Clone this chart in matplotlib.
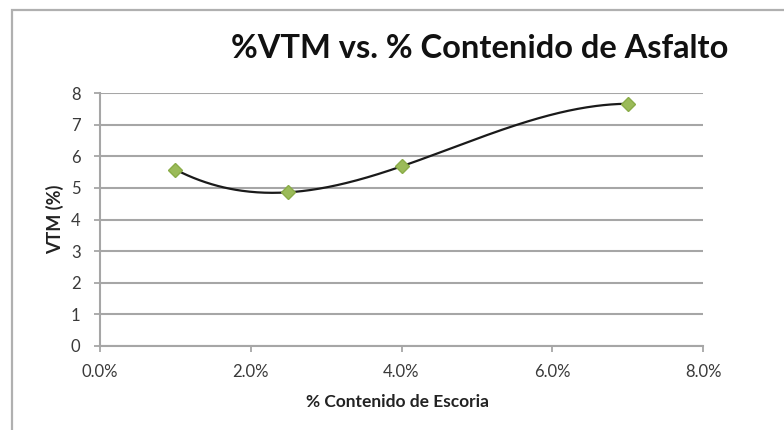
import numpy as np
import matplotlib
matplotlib.use("Agg")
import matplotlib.pyplot as plt
from matplotlib.ticker import FuncFormatter, MultipleLocator
from matplotlib.patches import Rectangle

# Slag content (%) and total air voids VTM (%)
contenido = [1.0, 2.5, 4.0, 7.0]
vtm = [5.58, 4.86, 5.68, 7.66]

titulo = "%VTM vs. % Contenido de Asfalto"
etiqueta_x = "% Contenido de Escoria"
etiqueta_y = "VTM (%)"

plt.rcParams['font.family'] = ['Lato', 'DejaVu Sans']

W, H = 784, 430
fig = plt.figure(figsize=(W / 100, H / 100), dpi=100)

# chart frame (top and left edges visible)
fig.add_artist(Rectangle((12 / W, -0.1), 1.2, (H - 10) / H + 0.1,
                         transform=fig.transFigure, fill=False,
                         edgecolor='#b0b0b0', linewidth=1.6))

ax = fig.add_axes([100 / W, (H - 346) / H, 603 / W, 253 / H])

# third-order polynomial trend line through the points
coef = np.polyfit(contenido, vtm, 3)
xs = np.linspace(min(contenido), max(contenido), 300)
ax.plot(xs, np.polyval(coef, xs), color='#1a1a1a', linewidth=1.6, zorder=3)
ax.plot(contenido, vtm, linestyle='none', marker='D', markersize=7.5,
        color='#9bbb59', markeredgecolor='#8aac48', zorder=4)

ax.set_xlim(0, 8)
ax.set_ylim(0, 8)
ax.xaxis.set_major_locator(MultipleLocator(2))
ax.yaxis.set_major_locator(MultipleLocator(1))
ax.xaxis.set_major_formatter(FuncFormatter(lambda v, p: f"{v:.1f}%"))

ax.grid(axis='y', color='#a6a6a6', linewidth=1.5)
ax.set_axisbelow(True)
for s in ['top', 'right']:
    ax.spines[s].set_visible(False)
for s in ['left', 'bottom']:
    ax.spines[s].set_color('#a6a6a6')
    ax.spines[s].set_linewidth(1.5)
ax.tick_params(axis='both', colors='#a6a6a6', labelcolor='#3a3a3a',
               labelsize=12, length=4, width=1.3)
ax.tick_params(axis='x', pad=9)
ax.tick_params(axis='y', pad=10)

fig.text(397 / W, 1 - 402 / H, etiqueta_x, ha='center', va='center',
         fontsize=12.5, fontweight='bold', color='#222222')
fig.text(55 / W, 1 - 219 / H, etiqueta_y, ha='center', va='center',
         rotation=90, fontsize=13, fontweight='bold', color='#222222')

fig.text(480 / W, 1 - 48 / H, titulo, ha='center', va='center',
         fontsize=23.5, fontweight='bold', color='#111111')

fig.savefig("out.png", dpi=100, facecolor='white')
